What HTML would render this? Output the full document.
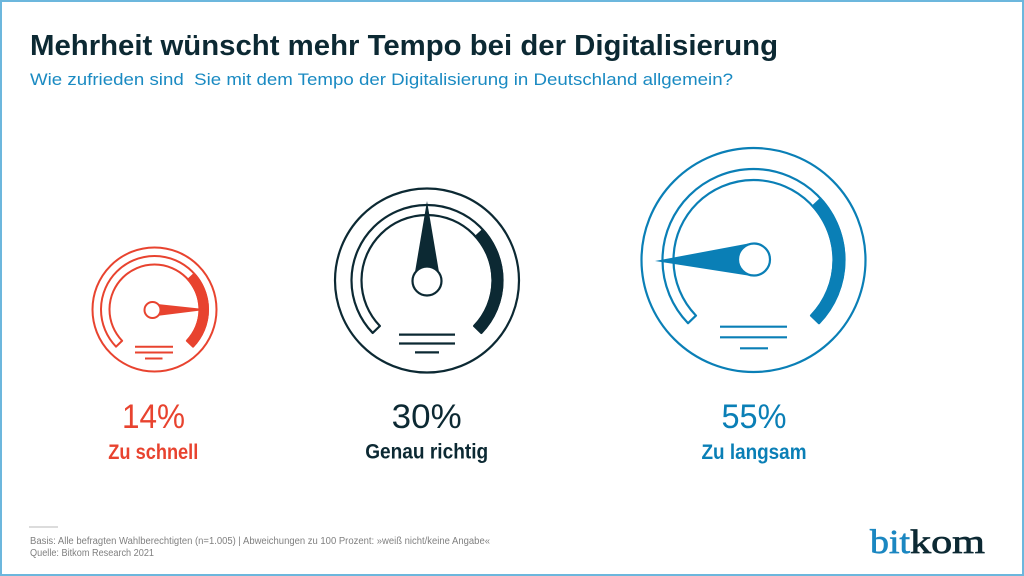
<!DOCTYPE html>
<html>
<head>
<meta charset="utf-8">
<style>
  html,body{margin:0;padding:0;background:#fff;}
  body{width:1024px;height:576px;overflow:hidden;}
  svg{display:block;}
  text{font-family:"Liberation Sans", Arial, sans-serif;}
</style>
</head>
<body>
<svg width="1024" height="576" viewBox="0 0 1024 576" xmlns="http://www.w3.org/2000/svg">
  <rect x="0" y="0" width="1024" height="576" fill="#ffffff"/>
  <rect x="1" y="1" width="1022" height="574" fill="none" stroke="#6cb7dd" stroke-width="2"/>

  <!-- Title -->
  <text x="30" y="55" font-size="29" font-weight="bold" fill="#0c2933" textLength="748" lengthAdjust="spacingAndGlyphs">Mehrheit wünscht mehr Tempo bei der Digitalisierung</text>
  <text x="30" y="85" font-size="17" fill="#1a8ac2" textLength="703" lengthAdjust="spacingAndGlyphs" style="white-space:pre">Wie zufrieden sind  Sie mit dem Tempo der Digitalisierung in Deutschland allgemein?</text>

  <!-- Gauge 1: red -->
  <g stroke="#e8432f" fill="none" stroke-width="2">
    <circle cx="154.5" cy="309.5" r="62"/>
    <path d="M116.02,346.67 A53.5,53.5 0 1 1 192.98,346.67 L186.87,340.76 A45,45 0 1 0 122.13,340.76 Z" fill="#fff" stroke-linejoin="round"/>
    <path d="M194.36,272.33 A54.5,54.5 0 0 1 193.70,347.36 L186.15,340.07 A44,44 0 0 0 186.68,279.49 Z" fill="#e8432f" stroke="none"/>
    <polygon points="208.5,309.5 152.5,303.5 152.5,316.5" fill="#e8432f" stroke="none"/>
    <circle cx="152.5" cy="310" r="8" fill="#fff"/>
    <line x1="135" y1="346.7" x2="173" y2="346.7"/>
    <line x1="135" y1="352.5" x2="173" y2="352.5"/>
    <line x1="145" y1="358.5" x2="162.5" y2="358.5"/>
  </g>

  <!-- Gauge 2: dark -->
  <g stroke="#0c2933" fill="none" stroke-width="2.2">
    <circle cx="427" cy="280.5" r="92"/>
    <path d="M372.69,332.95 A75.5,75.5 0 1 1 481.31,332.95 L474.11,326.0 A65.5,65.5 0 1 0 379.89,326.0 Z" fill="#fff" stroke-linejoin="round"/>
    <path d="M482.95,228.33 A76.5,76.5 0 0 1 482.03,333.64 L473.39,325.31 A64.5,64.5 0 0 0 474.18,236.51 Z" fill="#0c2933" stroke="none"/>
    <polygon points="427,201 413.5,281 440.5,281" fill="#0c2933" stroke="none"/>
    <circle cx="427" cy="281" r="14.5" fill="#fff"/>
    <line x1="399" y1="334.6" x2="455" y2="334.6"/>
    <line x1="399" y1="343.5" x2="455" y2="343.5"/>
    <line x1="415" y1="352.4" x2="439" y2="352.4"/>
  </g>

  <!-- Gauge 3: blue -->
  <g stroke="#0a7fb6" fill="none" stroke-width="2.2">
    <circle cx="753.5" cy="260" r="112"/>
    <path d="M688.04,323.22 A91,91 0 1 1 818.96,323.22 L811.04,315.58 A80,80 0 1 0 695.96,315.58 Z" fill="#fff" stroke-linejoin="round"/>
    <path d="M820.79,197.26 A92,92 0 0 1 819.68,323.91 L810.32,314.88 A79,79 0 0 0 811.28,206.12 Z" fill="#0a7fb6" stroke="none"/>
    <polygon points="655,261 753.7,242.5 754.3,276.5" fill="#0a7fb6" stroke="none"/>
    <circle cx="754" cy="259.5" r="16" fill="#fff"/>
    <line x1="720" y1="326.7" x2="787" y2="326.7"/>
    <line x1="720" y1="337.3" x2="787" y2="337.3"/>
    <line x1="740" y1="348.3" x2="768" y2="348.3"/>
  </g>

  <!-- Values -->
  <text x="153.5" y="428" font-size="34" fill="#e8432f" text-anchor="middle" textLength="63" lengthAdjust="spacingAndGlyphs">14%</text>
  <text x="153.3" y="459" font-size="21" font-weight="bold" fill="#e8432f" text-anchor="middle" textLength="90" lengthAdjust="spacingAndGlyphs">Zu schnell</text>

  <text x="426.7" y="428" font-size="34" fill="#0c2933" text-anchor="middle" textLength="70" lengthAdjust="spacingAndGlyphs">30%</text>
  <text x="426.7" y="458.5" font-size="21" font-weight="bold" fill="#0c2933" text-anchor="middle" textLength="123" lengthAdjust="spacingAndGlyphs">Genau richtig</text>

  <text x="754" y="428" font-size="34" fill="#0a7fb6" text-anchor="middle" textLength="65" lengthAdjust="spacingAndGlyphs">55%</text>
  <text x="754" y="459" font-size="21" font-weight="bold" fill="#0a7fb6" text-anchor="middle" textLength="105" lengthAdjust="spacingAndGlyphs">Zu langsam</text>

  <!-- Footer -->
  <line x1="29" y1="527" x2="58" y2="527" stroke="#b8b8b8" stroke-width="1"/>
  <text x="30" y="544" font-size="10" fill="#808080" textLength="460" lengthAdjust="spacingAndGlyphs">Basis: Alle befragten Wahlberechtigten (n=1.005) | Abweichungen zu 100 Prozent: »weiß nicht/keine Angabe«</text>
  <text x="30" y="556" font-size="10" fill="#808080" textLength="124" lengthAdjust="spacingAndGlyphs">Quelle: Bitkom Research 2021</text>

  <!-- Logo -->
  <text x="870" y="553" font-size="34" fill="#1b87c1" stroke="#1b87c1" stroke-width="0.7" textLength="40" lengthAdjust="spacingAndGlyphs" style="font-family:'Liberation Serif', serif;">bit</text>
  <text x="910" y="553" font-size="34" fill="#0c2933" stroke="#0c2933" stroke-width="0.7" textLength="75" lengthAdjust="spacingAndGlyphs" style="font-family:'Liberation Serif', serif;">kom</text>
</svg>
</body>
</html>
